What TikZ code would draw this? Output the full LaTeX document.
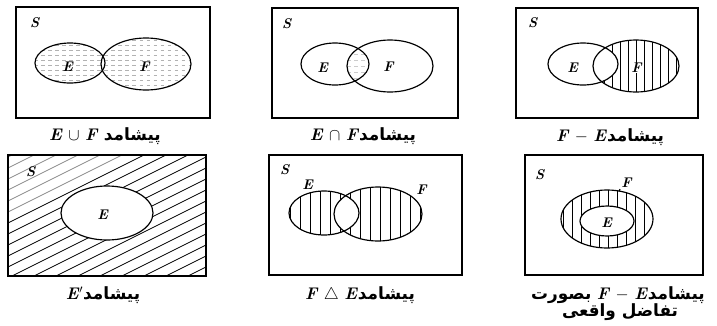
\documentclass[tikz,border=0pt]{standalone}
\usepackage{fontspec}
\newfontfamily\farsi[Script=Arabic]{DejaVu Sans}
\TeXXeTstate=1
\newcommand\fa[1]{{\farsi\bfseries\beginR #1\endR}}
\newcommand\sym[1]{\textbf{\textit{#1}}}
\tikzset{
  frame/.style={line width=1.7pt},
  setline/.style={line width=1pt},
  hatch/.style={line width=0.7pt},
  faint/.style={gray!60,dashed,line width=0.5pt},
  caption/.style={font=\Large,inner sep=1pt},
  letter/.style={font=\large,inner sep=1pt}
}
\begin{document}
\begin{tikzpicture}[x=0.03cm,y=-0.03cm]
\useasboundingbox (0,0) rectangle (717,325);
% union
\draw[frame] (16,7) rectangle (210,118);
\begin{scope}
\clip (70,63) ellipse (35 and 20) (146,64) ellipse (45 and 26);
\foreach \y in {40,45,...,90} \draw[faint] (20,\y) -- (200,\y);
\end{scope}
\draw[setline] (70,63) ellipse (35 and 20);
\draw[setline] (146,64) ellipse (45 and 26);
\node[letter] (sU) at (35,23) {\sym{S}};
\node[letter] (eU) at (68,67) {\sym{E}};
\node[letter] (fU) at (145,67) {\sym{F}};
\node[caption] (capU) at (105,136) {\sym{E} $\cup$ \sym{F} \fa{پیشامد}};
% intersection
\draw[frame] (272,8) rectangle (458,118);
\begin{scope}
\clip (335,64) ellipse (34 and 21);
\clip (390,66) ellipse (43 and 26);
\foreach \y in {48,54,...,84} \draw[faint,gray!40] (340,\y) -- (380,\y);
\end{scope}
\draw[setline] (335,64) ellipse (34 and 21);
\draw[setline] (390,66) ellipse (43 and 26);
\node[letter] (sI) at (287,24) {\sym{S}};
\node[letter] (eI) at (323,68) {\sym{E}};
\node[letter] (fI) at (389,67) {\sym{F}};
\node[caption] (capI) at (363,136) {\sym{E} $\cap$ \sym{F}\fa{پیشامد}};
% F - E
\draw[frame] (516,8) rectangle (698,118);
\begin{scope}
\clip (636,66) ellipse (43 and 26);
\foreach \x in {596,604,...,680} \draw[hatch] (\x,38) -- (\x,94);
\end{scope}
\fill[white] (583,64) ellipse (35 and 21);
\draw[setline] (583,64) ellipse (35 and 21);
\draw[setline] (636,66) ellipse (43 and 26);
\node[letter] (sD) at (533,23) {\sym{S}};
\node[letter] (eD) at (573,68) {\sym{E}};
\node[letter,fill=white,inner sep=0.5pt] (fD) at (637,68) {\sym{F}};
\node[caption] (capD) at (610,137) {\sym{F} $-$ \sym{E}\fa{پیشامد}};
% complement
\begin{scope}
\clip (8,155) rectangle (206,276);
\foreach \c in {150,161,...,400} \draw[hatch] (8,\c-4) -- (206,\c-103);
\fill[white,opacity=0.55] (8,155) -- (130,155) -- (8,215) -- cycle;
\end{scope}
\draw[frame] (8,155) rectangle (206,276);
\fill[white] (107,213) ellipse (46 and 27);
\draw[setline] (107,213) ellipse (46 and 27);
\node[letter] (sC) at (31,172) {\sym{S}};
\node[letter] (eC) at (103,215) {\sym{E}};
\node[caption] (capC) at (103,295) {\sym{E}$'$\fa{پیشامد}};
% symmetric difference
\draw[frame] (269,155) rectangle (462,275);
\begin{scope}
\clip (324,213) ellipse (35 and 22) (378,214) ellipse (44 and 27);
\foreach \x in {290,300,...,422} \draw[hatch] (\x,185) -- (\x,242);
\end{scope}
\begin{scope}
\clip (324,213) ellipse (35 and 22);
\fill[white] (378,214) ellipse (44 and 27);
\end{scope}
\draw[setline] (324,213) ellipse (35 and 22);
\draw[setline] (378,214) ellipse (44 and 27);
\node[letter] (sS) at (285,170) {\sym{S}};
\node[letter] (eS) at (308,185) {\sym{E}};
\node[letter] (fS) at (422,190) {\sym{F}};
\node[caption] (capS) at (360,295) {\sym{F} $\triangle$ \sym{E}\fa{پیشامد}};
% proper difference
\draw[frame] (525,155) rectangle (703,275);
\begin{scope}
\clip (607,219) ellipse (46 and 29);
\foreach \x in {563,572,...,652} \draw[hatch] (\x,188) -- (\x,250);
\end{scope}
\fill[white] (607,221) ellipse (27 and 15);
\draw[setline] (607,219) ellipse (46 and 29);
\draw[setline] (607,221) ellipse (27 and 15);
\node[letter] (sP) at (540,175) {\sym{S}};
\node[letter] (eP) at (607,223) {\sym{E}};
\node[letter] (fP) at (627,183) {\sym{F}};
\coordinate (tP) at (619,191);
\draw[setline] (fP.south west) -- (tP);
\node[caption] (capP1) at (618,295) {\fa{بصورت} \sym{F} $-$ \sym{E}\fa{پیشامد}};
\node[caption] (capP2) at (620,312) {\fa{تفاضل واقعی}};
\end{tikzpicture}
\end{document}
